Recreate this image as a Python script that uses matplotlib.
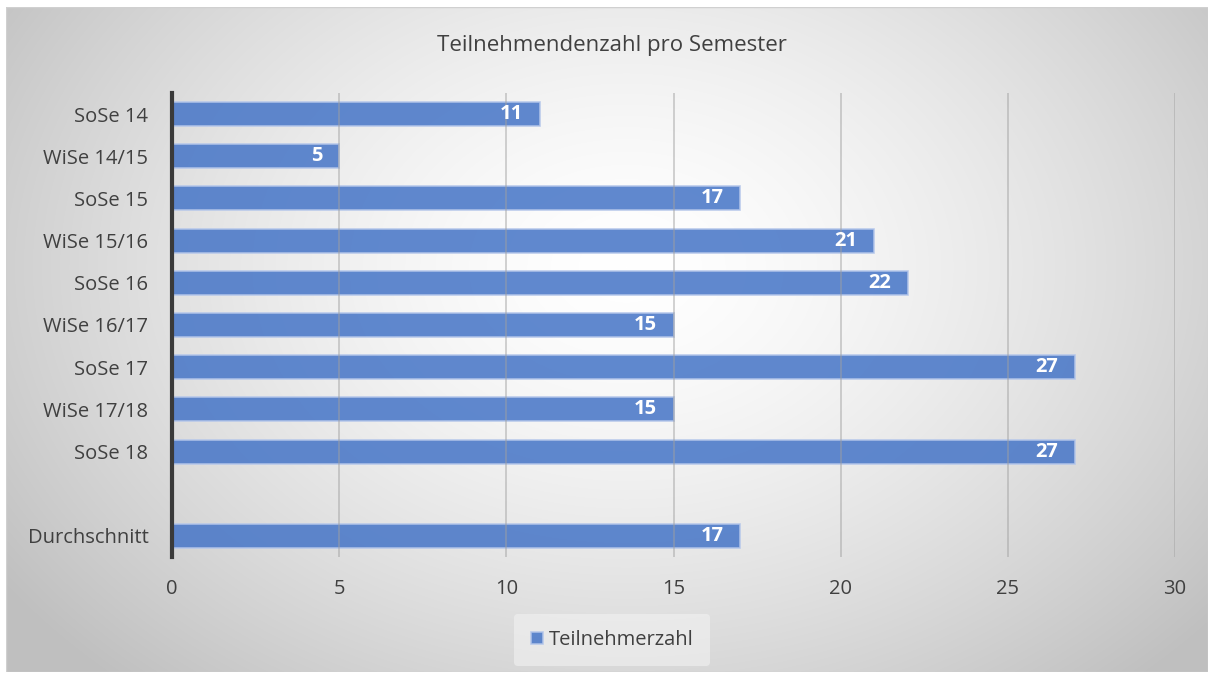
import numpy as np
import matplotlib.pyplot as plt
from matplotlib.patches import Rectangle

categories = ["SoSe 14", "WiSe 14/15", "SoSe 15", "WiSe 15/16", "SoSe 16",
              "WiSe 16/17", "SoSe 17", "WiSe 17/18", "SoSe 18", "", "Durchschnitt"]
values = [11, 5, 17, 21, 22, 15, 27, 15, 27, np.nan, 17]
xticks = [0, 5, 10, 15, 20, 25, 30]

plt.rcParams['font.family'] = ['Open Sans', 'DejaVu Sans']

W, H = 1212, 675
fig = plt.figure(figsize=(W / 100, H / 100), dpi=100)
fig.patch.set_facecolor('white')

# radial gradient background of the chart area
bg = fig.add_axes([6 / W, 1 - 672 / H, 1202 / W, 665 / H])
yy, xx = np.mgrid[0:665, 0:1202]
r = np.sqrt(((xx - 620) / 760) ** 2 + ((yy - 260) / 560) ** 2)
shade = 1.0 - 0.25 * np.clip(r, 0, 1) ** 1.5
img = np.dstack([shade, shade, shade])
bg.imshow(img, aspect='auto', extent=[0, 1, 0, 1], interpolation='bilinear')
bg.set_axis_off()
bg.add_patch(Rectangle((0, 0), 1, 1, transform=bg.transAxes, fill=False,
                       edgecolor='#d0d0d0', lw=1))

# plot area
x0, x1 = 172, 1175
y0, y1 = 93, 557
ax = fig.add_axes([x0 / W, 1 - y1 / H, (x1 - x0) / W, (y1 - y0) / H])
ax.patch.set_alpha(0)

pos = np.arange(len(categories))
bars = ax.barh(pos, values, height=0.57, color='#4a78c8', alpha=0.88,
               edgecolor='#b4c6ea', linewidth=1.2, zorder=2,
               label='Teilnehmerzahl')
for p, v in zip(pos, values):
    if not np.isnan(v):
        ax.annotate(f"{v:g}", xy=(v, p), xytext=(-12, 0), textcoords='offset points',
                    ha='right', va='center', color='white', fontsize=14.5,
                    fontweight='bold', zorder=4)

ax.set_xlim(0, 30)
ax.set_ylim(len(categories) - 0.5, -0.5)
ax.set_xticks(xticks)
ax.set_yticks(pos)
ax.set_yticklabels(categories)
ax.xaxis.grid(True, color='#a0a0a0', alpha=0.55, lw=1.2, zorder=3)
ax.set_axisbelow(False)
ax.tick_params(axis='both', length=0, colors='#404040', labelsize=14.5)
ax.tick_params(axis='x', pad=16)
ax.tick_params(axis='y', pad=17)
for s in ['top', 'right', 'bottom']:
    ax.spines[s].set_visible(False)
ax.spines['left'].set_linewidth(3)
ax.spines['left'].set_color('#3a3a3a')
ax.spines['left'].set_zorder(5)

fig.text(612 / W, 1 - 45 / H, "Teilnehmendenzahl pro Semester", fontsize=16,
         color='#404040', ha='center', va='center')

leg = fig.legend(handles=[bars], labels=['Teilnehmerzahl'], loc='center',
                 bbox_to_anchor=(612 / W, 1 - 640 / H), frameon=True,
                 fontsize=14.5, handlelength=0.6, handleheight=0.6,
                 handletextpad=0.3, borderpad=0.8)
leg.get_frame().set_facecolor('#f2f2f2')
leg.get_frame().set_edgecolor('none')
leg.get_frame().set_alpha(0.6)
for t in leg.get_texts():
    t.set_color('#404040')

fig.savefig("out.png", dpi=100)
